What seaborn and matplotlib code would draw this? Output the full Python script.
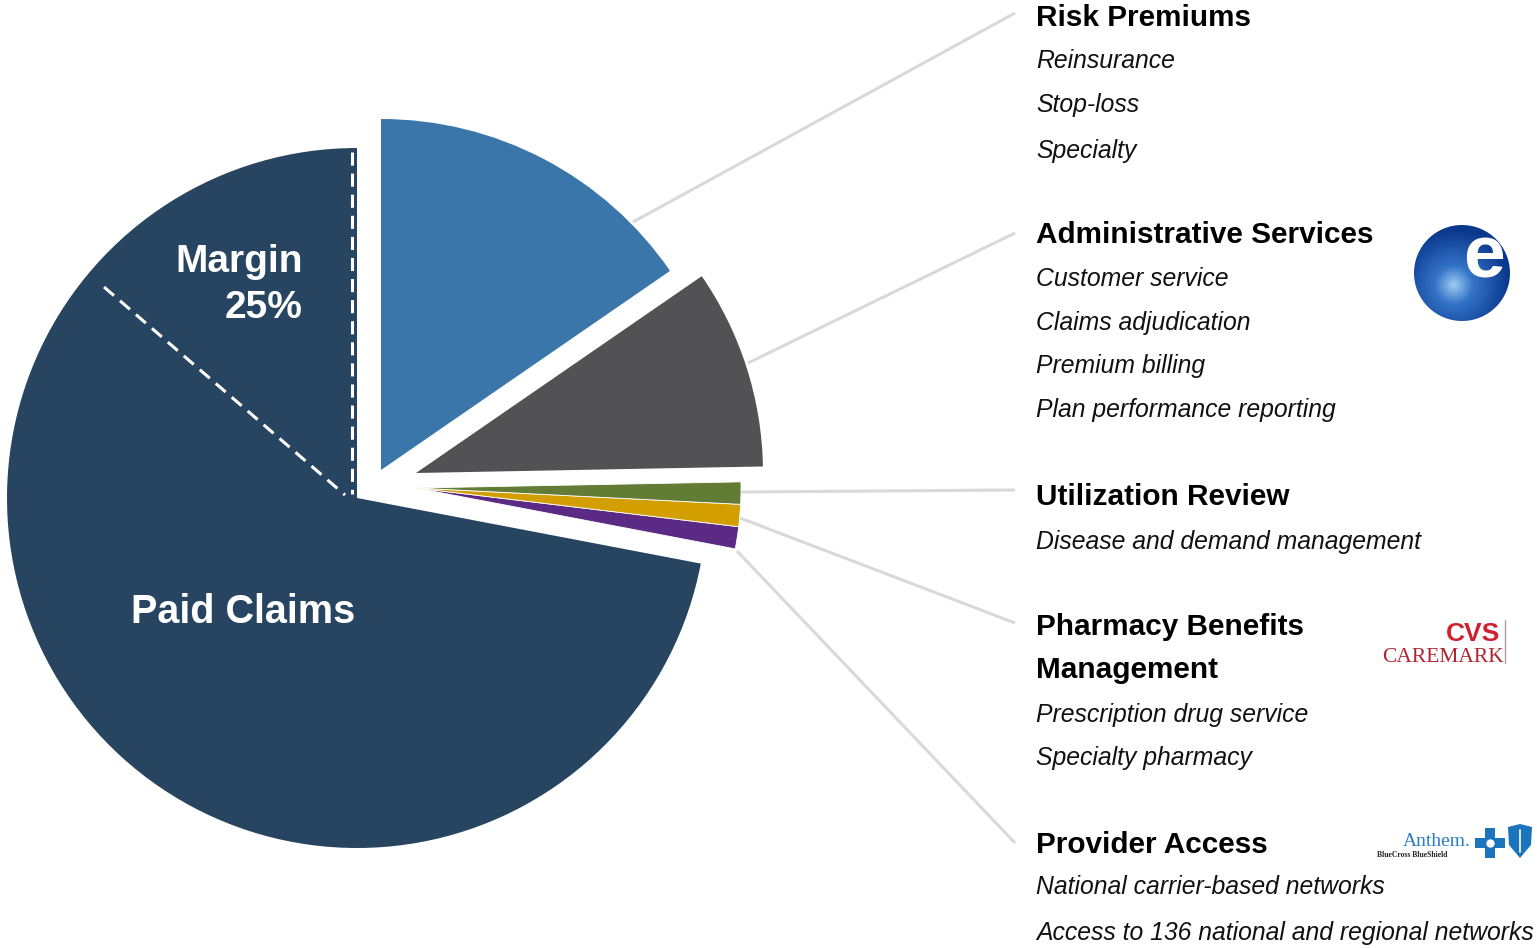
import numpy as np
import matplotlib
matplotlib.use("Agg")
import matplotlib.pyplot as plt
import seaborn as sns
from matplotlib.patches import Circle, Polygon

# ---------------- data ----------------
segments = ["Paid Claims", "Provider Access", "Pharmacy Benefits Management",
            "Utilization Review", "Administrative Services", "Risk Premiums"]
shares = [72.0, 1.1, 1.1, 1.1, 9.3, 15.4]
seg_colors = ["#274560", "#5B2A84", "#D39F00", "#627B35", "#525254", "#3B76AA"]

margin_label = ["Margin", "25%"]
paid_label = "Paid Claims"

headers = ["Risk Premiums", "Administrative Services", "Utilization Review",
           "Pharmacy Benefits\nManagement", "Provider Access"]
risk_items = ["Reinsurance", "Stop-loss", "Specialty"]
admin_items = ["Customer service", "Claims adjudication", "Premium billing",
               "Plan performance reporting"]
ur_items = ["Disease and demand management"]
pbm_items = ["Prescription drug service", "Specialty pharmacy"]
pa_items = ["National carrier-based networks",
            "Access to 136 national and regional networks"]

# ---------------- style ----------------
sns.set_theme(style="white")
plt.rcParams["font.family"] = ["Liberation Sans", "DejaVu Sans"]

W, H = 1537, 948
def Y(y):
    return H - y

fig = plt.figure(figsize=(W / 100, H / 100), dpi=100)
ax = fig.add_axes([0, 0, 1, 1])

wedges, _ = ax.pie(shares, colors=seg_colors, startangle=90, counterclock=True,
                   radius=350, center=(357, Y(498)),
                   wedgeprops=dict(linewidth=0))
ax.set_xlim(0, W)
ax.set_ylim(0, H)
ax.set_aspect("equal")
ax.axis("off")

# pull-out of the service slices
wedges[5].set_center((381, Y(470))); wedges[5].set_radius(351)
wedges[4].set_center((416, Y(473))); wedges[4].set_radius(347)
for i in (1, 2, 3):
    wedges[i].set_center((416, Y(488)))
    wedges[i].set_radius(325)
    wedges[i].set_edgecolor("white")
    wedges[i].set_linewidth(0.6)

# dashed margin lines
ax.plot([352, 352], [Y(152), Y(494)], color="white", lw=2.2,
        dashes=(4.3, 2.6), zorder=5)
ax.plot([104, 345], [Y(287), Y(495)], color="white", lw=2.2,
        dashes=(4.3, 2.6), zorder=5)

ax.text(303, Y(272), margin_label[0], color="white", fontsize=28,
        fontweight="bold", ha="right", va="baseline", zorder=6)
ax.text(303, Y(318), margin_label[1], color="white", fontsize=28,
        fontweight="bold", ha="right", va="baseline", zorder=6)
ax.text(131, Y(623), paid_label, color="white", fontsize=28.5,
        fontweight="bold", ha="left", va="baseline", zorder=6)

# leader lines
lead = [((633, 222), (1015, 13)),
        ((748, 363), (1015, 233)),
        ((741, 492), (1015, 490)),
        ((740, 518), (1015, 623)),
        ((737, 551), (1015, 843))]
for (x0, y0), (x1, y1) in lead:
    ax.plot([x0, x1], [Y(y0), Y(y1)], color="#D9D9D9", lw=2.2,
            solid_capstyle="butt", zorder=0)

# right-hand text
TX = 1036
def head(text, base):
    ax.text(TX, Y(base), text, fontsize=21.4, fontweight="bold",
            color="black", ha="left", va="baseline")
def item(text, base):
    ax.text(TX, Y(base + 2), text, fontsize=17.8, fontstyle="italic",
            color="#111111", ha="left", va="baseline")

head(headers[0], 26)
for t, b in zip(risk_items, [66, 110, 156]):
    item(t, b)
head(headers[1], 243)
for t, b in zip(admin_items, [284, 328, 371, 415]):
    item(t, b)
head(headers[2], 505)
for t, b in zip(ur_items, [547]):
    item(t, b)
pbm_h = headers[3].split("\n")
head(pbm_h[0], 635)
head(pbm_h[1], 678)
for t, b in zip(pbm_items, [720, 763]):
    item(t, b)
head(headers[4], 853)
for t, b in zip(pa_items, [892, 938]):
    item(t, b)

# ---------------- logos ----------------
# "e" globe
cx, cy, r = 1462, 273, 48
circ = Circle((cx, Y(cy)), r, transform=ax.transData, facecolor="none",
              edgecolor="none")
ax.add_patch(circ)
gx = np.linspace(cx - r, cx + r, 200)
gy = np.linspace(Y(cy) - r, Y(cy) + r, 200)
GX, GY = np.meshgrid(gx, gy)
d = np.sqrt((GX - (cx - 8)) ** 2 + (GY - Y(cy + 12)) ** 2) / (r * 1.15)
d = np.clip(d, 0, 1)
c0 = np.array([0.62, 0.80, 0.95])
c1 = np.array([0.20, 0.45, 0.78])
c2 = np.array([0.04, 0.22, 0.55])
img = np.where(d[..., None] < 0.35,
               c0 + (c1 - c0) * (d[..., None] / 0.35),
               c1 + (c2 - c1) * ((d[..., None] - 0.35) / 0.65))
im = ax.imshow(img, extent=(cx - r, cx + r, Y(cy) - r, Y(cy) + r),
               origin="lower", zorder=3, interpolation="bilinear")
im.set_clip_path(circ)
ax.set_xlim(0, W); ax.set_ylim(0, H)
ax.text(1484, Y(258), "e", color="white", fontsize=54, fontweight="bold",
        ha="center", va="center", zorder=4)

# CVS Caremark
ax.text(1500, Y(641), "CVS", color="#D0202E", fontsize=19, fontweight="bold",
        ha="right", va="baseline", zorder=4)
ax.text(1382, Y(662), "CAREMARK", color="#B0242F", fontsize=15.5,
        family=["Liberation Serif", "DejaVu Serif"], ha="left",
        va="baseline", zorder=4)
ax.plot([1505, 1505], [Y(620), Y(663)], color="#B0A0A0", lw=1)

# Anthem
ax.text(1403, Y(846), "Anthem.", color="#2A7DC3", fontsize=14,
        family=["Liberation Serif", "DejaVu Serif"], ha="left",
        va="baseline", zorder=4)
ax.text(1377, Y(857), "BlueCross BlueShield", color="#222222", fontsize=5.5,
        fontweight="bold", family=["Liberation Serif", "DejaVu Serif"],
        ha="left", va="baseline", zorder=4)
ax.plot([1490], [Y(843)], marker="P", markersize=22, color="#1A75BC",
        markeredgewidth=0, zorder=4)
ax.plot([1490], [Y(843)], marker="o", markersize=6, color="white",
        markeredgewidth=0, zorder=5)
shield = Polygon([(1508, Y(827)), (1520, Y(824)), (1532, Y(827)),
                  (1531, Y(845)), (1520, Y(858)), (1509, Y(845))],
                 closed=True, facecolor="#1A75BC", edgecolor="none", zorder=4)
ax.add_patch(shield)
ax.plot([1520, 1520], [Y(830), Y(852)], color="white", lw=1.2, zorder=5)

fig.savefig("out.png", dpi=100, facecolor="white")
